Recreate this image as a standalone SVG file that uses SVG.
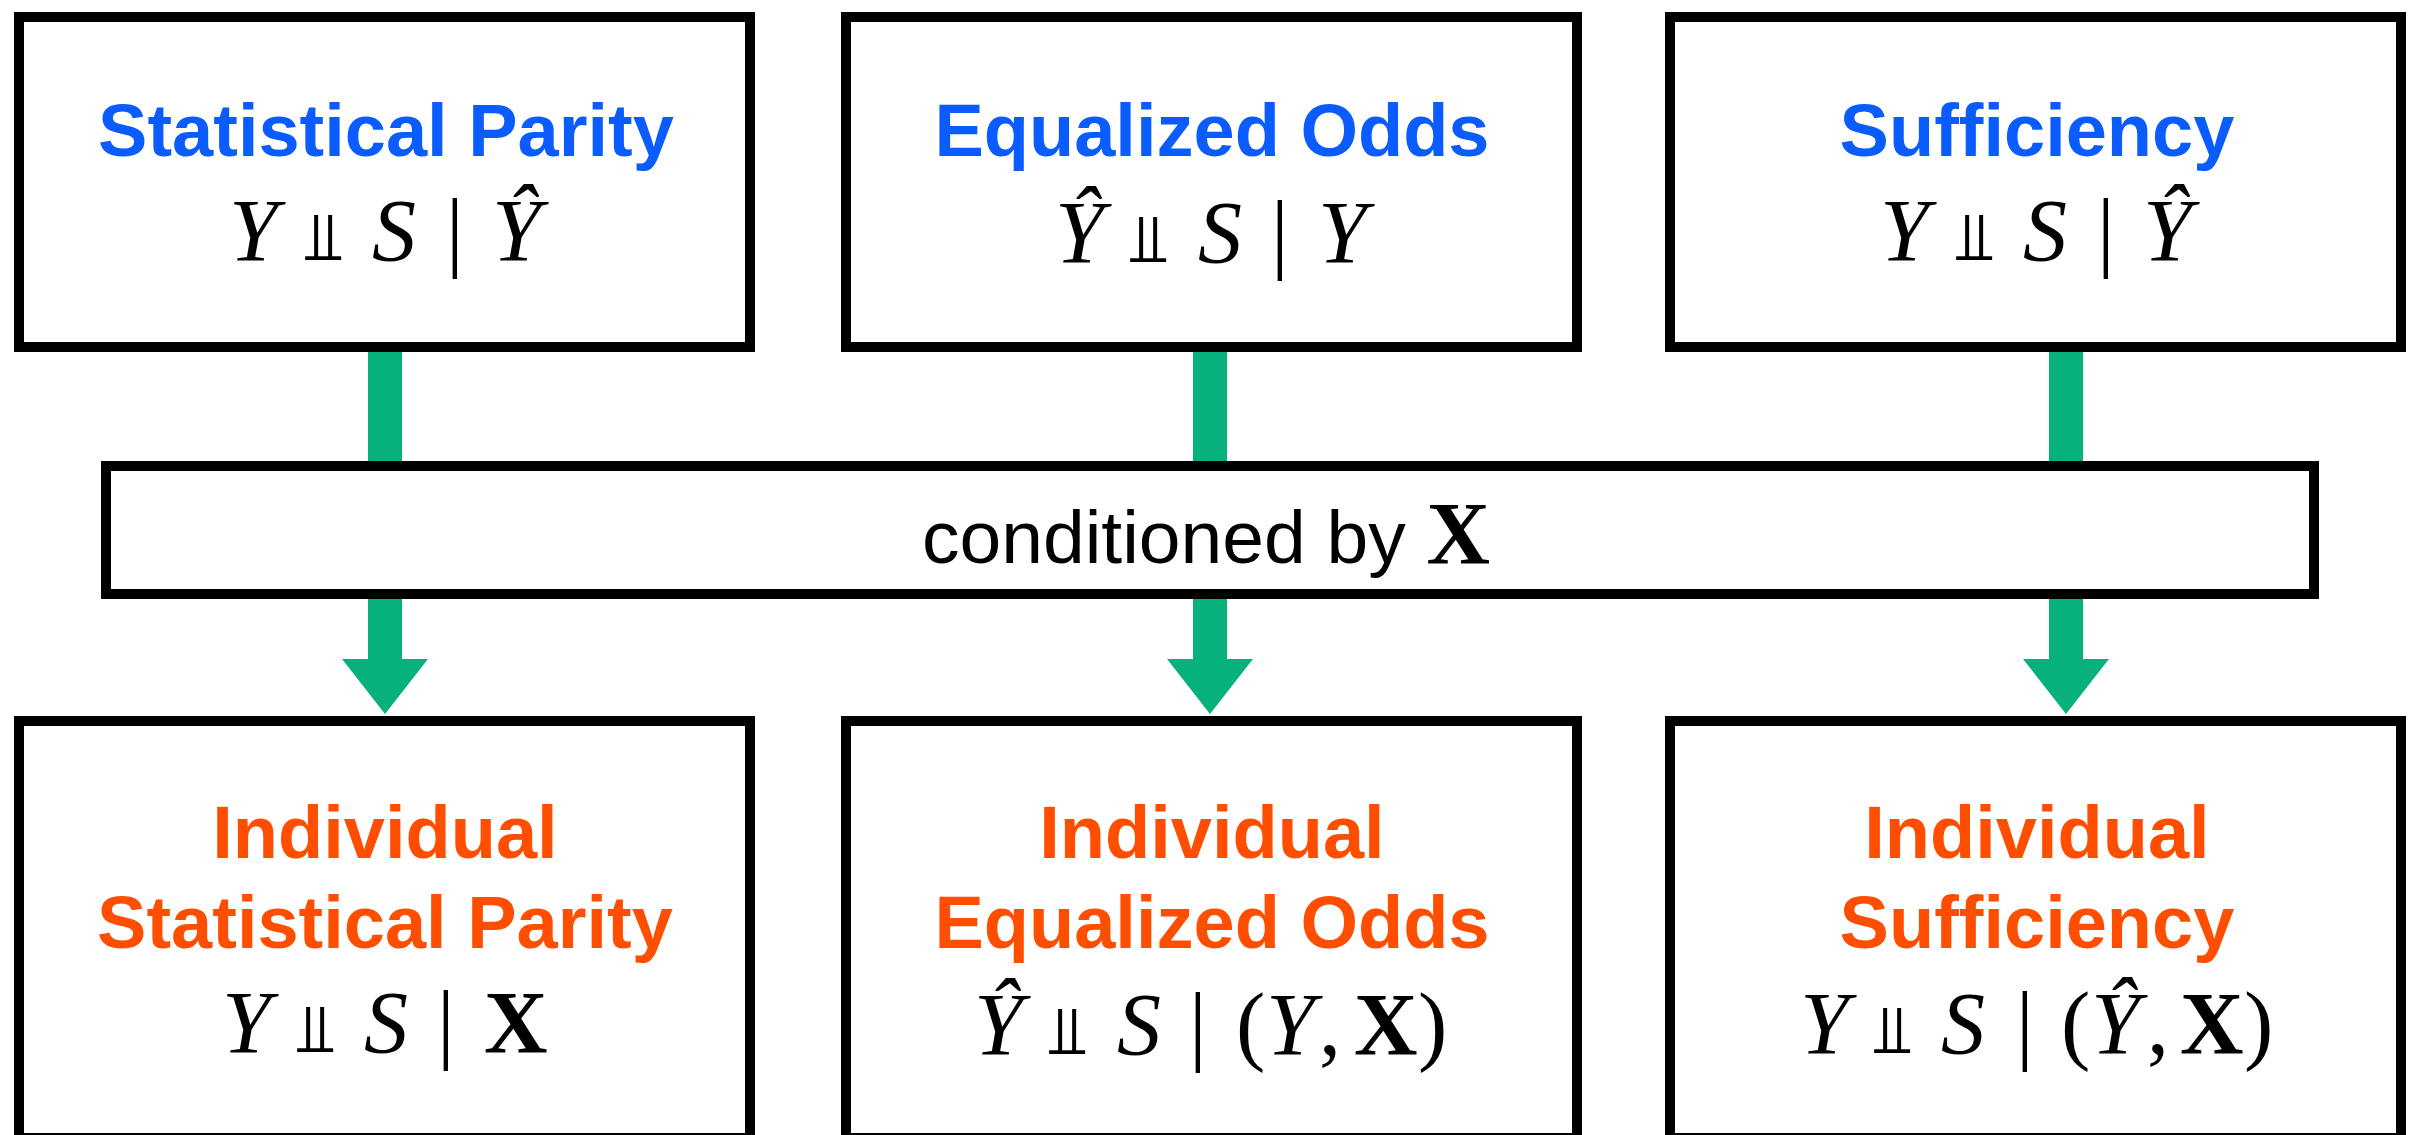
<svg xmlns="http://www.w3.org/2000/svg" width="2410" height="1135" viewBox="0 0 2410 1135">
<defs>
<style>
.box{fill:#ffffff;stroke:#000000;stroke-width:10}
.shaft{stroke:#06B17C;stroke-width:34;fill:none}
.head{fill:#06B17C}
.tb{font-family:"Liberation Sans",Arial,Helvetica,sans-serif;font-weight:bold;font-size:74px;text-anchor:middle;fill:#0A5CFF}
.to{font-family:"Liberation Sans",Arial,Helvetica,sans-serif;font-weight:bold;font-size:74px;text-anchor:middle;fill:#FF4E00}
.m{font-family:"Liberation Serif","Times New Roman",serif;font-size:88px;fill:#000000}
.i{font-style:italic}
.b{font-weight:bold}
.rel{font-family:"DejaVu Serif","DejaVu Sans",serif;font-size:68px}
.plain{font-family:"Liberation Sans",Arial,Helvetica,sans-serif;font-size:75px;fill:#000000}
</style>
</defs>
<rect width="2410" height="1135" fill="#ffffff"/>
<g id="connectors">
<line class="shaft" x1="385" y1="347" x2="385" y2="466"/>
<line class="shaft" x1="1210" y1="347" x2="1210" y2="466"/>
<line class="shaft" x1="2066" y1="347" x2="2066" y2="466"/>
<line class="shaft" x1="385" y1="594" x2="385" y2="662"/>
<line class="shaft" x1="1210" y1="594" x2="1210" y2="662"/>
<line class="shaft" x1="2066" y1="594" x2="2066" y2="662"/>
<polygon class="head" points="342,659 428,659 385,714"/>
<polygon class="head" points="1167,659 1253,659 1210,714"/>
<polygon class="head" points="2023,659 2109,659 2066,714"/>
</g>
<g id="statistical-parity">
<rect class="box" x="19" y="17" width="731" height="330"/>
<text class="tb" x="386" y="156">Statistical Parity</text>
<text class="m" y="260"><tspan class="i" x="229">Y</tspan><tspan class="rel" x="304">⫫</tspan><tspan class="i" x="372">S</tspan><tspan x="446">|</tspan><tspan class="i" x="492">Ŷ</tspan></text>
</g>
<g id="equalized-odds">
<rect class="box" x="846" y="17" width="731" height="330"/>
<text class="tb" x="1212" y="156">Equalized Odds</text>
<text class="m" y="262"><tspan class="i" x="1055">Ŷ</tspan><tspan class="rel" x="1129">⫫</tspan><tspan class="i" x="1198">S</tspan><tspan x="1271">|</tspan><tspan class="i" x="1318">Y</tspan></text>
</g>
<g id="sufficiency">
<rect class="box" x="1670" y="17" width="731" height="330"/>
<text class="tb" x="2037" y="156">Sufficiency</text>
<text class="m" y="260"><tspan class="i" x="1880">Y</tspan><tspan class="rel" x="1955">⫫</tspan><tspan class="i" x="2023">S</tspan><tspan x="2097">|</tspan><tspan class="i" x="2143">Ŷ</tspan></text>
</g>
<g id="conditioned">
<rect class="box" x="106" y="466" width="2208" height="128"/>
<text y="563"><tspan class="plain" x="922">conditioned by </tspan><tspan class="m b" font-size="84">X</tspan></text>
</g>
<g id="individual-statistical-parity">
<rect class="box" x="19" y="721" width="731" height="417"/>
<text class="to" x="385" y="858">Individual</text>
<text class="to" x="385" y="948">Statistical Parity</text>
<text class="m" y="1052"><tspan class="i" x="222">Y</tspan><tspan class="rel" x="296">⫫</tspan><tspan class="i" x="364">S</tspan><tspan x="437">|</tspan><tspan class="b" x="484">X</tspan></text>
</g>
<g id="individual-equalized-odds">
<rect class="box" x="846" y="721" width="731" height="417"/>
<text class="to" x="1212" y="858">Individual</text>
<text class="to" x="1212" y="948">Equalized Odds</text>
<text class="m" y="1054"><tspan class="i" x="974">Ŷ</tspan><tspan class="rel" x="1048">⫫</tspan><tspan class="i" x="1117">S</tspan><tspan x="1189">|</tspan><tspan x="1236">(</tspan><tspan class="i" x="1266">Y</tspan><tspan x="1319">,</tspan><tspan class="b" x="1354">X</tspan><tspan x="1418">)</tspan></text>
</g>
<g id="individual-sufficiency">
<rect class="box" x="1670" y="721" width="731" height="417"/>
<text class="to" x="2037" y="858">Individual</text>
<text class="to" x="2037" y="948">Sufficiency</text>
<text class="m" y="1053"><tspan class="i" x="1800">Y</tspan><tspan class="rel" x="1873">⫫</tspan><tspan class="i" x="1941">S</tspan><tspan x="2016">|</tspan><tspan x="2061">(</tspan><tspan class="i" x="2091">Ŷ</tspan><tspan x="2147">,</tspan><tspan class="b" x="2180">X</tspan><tspan x="2244">)</tspan></text>
</g>
</svg>
